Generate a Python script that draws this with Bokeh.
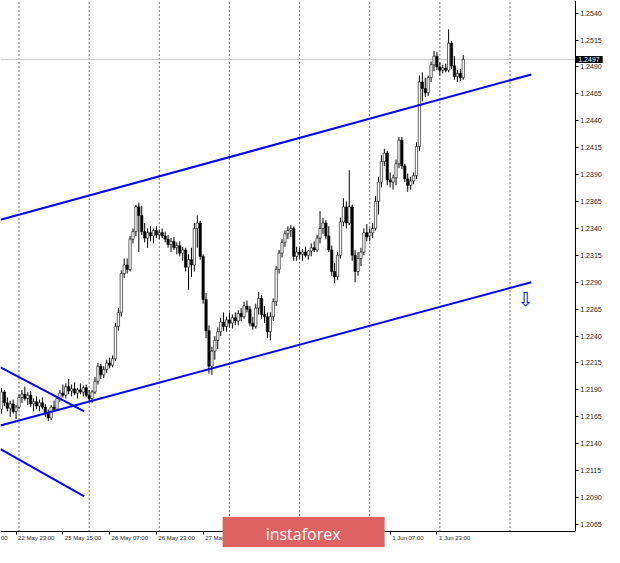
from bokeh.plotting import figure
from bokeh.models import (ColumnDataSource, FixedTicker, PrintfTickFormatter,
                          Label, LabelSet, Range1d)
from bokeh.core.properties import value
from bokeh.embed import file_html
from bokeh.resources import INLINE

# ---------------- data (GBP/USD H1, 22 May 18:00 .. 2 Jun 08:00) ----------------
opens = [1.2172, 1.2188, 1.2178, 1.2173, 1.2177, 1.2170, 1.2174, 1.2183, 1.2186, 1.2182,
         1.2185, 1.2177, 1.2179, 1.2175, 1.2178, 1.2174, 1.2168, 1.2164, 1.2174, 1.2172,
         1.2182, 1.2187, 1.2185, 1.2193, 1.2189, 1.2191, 1.2187, 1.2190, 1.2188, 1.2192,
         1.2185, 1.2182, 1.2188, 1.2198, 1.2212, 1.2204, 1.2209, 1.2215, 1.2213, 1.2219,
         1.2249, 1.2262, 1.2298, 1.2306, 1.2302, 1.2330, 1.2337, 1.2360, 1.2352, 1.2337,
         1.2331, 1.2336, 1.2333, 1.2338, 1.2334, 1.2336, 1.2333, 1.2330, 1.2325, 1.2328,
         1.2322, 1.2324, 1.2317, 1.2320, 1.2304, 1.2311, 1.2306, 1.2340, 1.2345, 1.2314,
         1.2274, 1.2245, 1.2212, 1.2226, 1.2236, 1.2244, 1.2253, 1.2249, 1.2255, 1.2252,
         1.2257, 1.2254, 1.2261, 1.2258, 1.2268, 1.2265, 1.2252, 1.2249, 1.2266, 1.2275,
         1.2260, 1.2258, 1.2244, 1.2258, 1.2272, 1.2302, 1.2317, 1.2327, 1.2335, 1.2338,
         1.2340, 1.2314, 1.2318, 1.2316, 1.2318, 1.2315, 1.2319, 1.2322, 1.2320, 1.2331,
         1.2340, 1.2345, 1.2333, 1.2320, 1.2300, 1.2295, 1.2315, 1.2346, 1.2360, 1.2345,
         1.2360, 1.2315, 1.2300, 1.2312, 1.2318, 1.2336, 1.2333, 1.2336, 1.2340, 1.2365,
         1.2383, 1.2402, 1.2410, 1.2385, 1.2383, 1.2387, 1.2400, 1.2422, 1.2398, 1.2386,
         1.2380, 1.2384, 1.2389, 1.2416, 1.2476, 1.2470, 1.2466, 1.2480, 1.2492, 1.2500,
         1.2490, 1.2487, 1.2489, 1.2487, 1.2512, 1.2491, 1.2481, 1.2484, 1.2480]
highs = [1.2192, 1.2190, 1.2183, 1.2180, 1.2181, 1.2176, 1.2186, 1.2190, 1.2193, 1.2188,
         1.2189, 1.2182, 1.2184, 1.2181, 1.2183, 1.2177, 1.2172, 1.2176, 1.2180, 1.2184,
         1.2190, 1.2195, 1.2196, 1.2200, 1.2195, 1.2197, 1.2192, 1.2196, 1.2194, 1.2195,
         1.2190, 1.2190, 1.2202, 1.2215, 1.2214, 1.2212, 1.2218, 1.2220, 1.2222, 1.2252,
         1.2266, 1.2301, 1.2312, 1.2312, 1.2333, 1.2340, 1.2362, 1.2364, 1.2361, 1.2345,
         1.2340, 1.2342, 1.2340, 1.2342, 1.2339, 1.2340, 1.2337, 1.2334, 1.2331, 1.2332,
         1.2327, 1.2328, 1.2323, 1.2322, 1.2316, 1.2322, 1.2345, 1.2352, 1.2347, 1.2316,
         1.2280, 1.2250, 1.2230, 1.2240, 1.2248, 1.2257, 1.2262, 1.2258, 1.2262, 1.2260,
         1.2262, 1.2264, 1.2266, 1.2272, 1.2273, 1.2268, 1.2258, 1.2270, 1.2281, 1.2278,
         1.2268, 1.2262, 1.2262, 1.2275, 1.2305, 1.2320, 1.2330, 1.2338, 1.2342, 1.2343,
         1.2342, 1.2323, 1.2322, 1.2321, 1.2323, 1.2320, 1.2326, 1.2328, 1.2334, 1.2356,
         1.2350, 1.2348, 1.2342, 1.2324, 1.2308, 1.2318, 1.2350, 1.2368, 1.2365, 1.2394,
         1.2362, 1.2320, 1.2318, 1.2322, 1.2340, 1.2344, 1.2340, 1.2345, 1.2370, 1.2388,
         1.2408, 1.2414, 1.2412, 1.2392, 1.2390, 1.2404, 1.2425, 1.2425, 1.2400, 1.2391,
         1.2388, 1.2392, 1.2420, 1.2482, 1.2485, 1.2480, 1.2482, 1.2495, 1.2505, 1.2504,
         1.2494, 1.2492, 1.2493, 1.2525, 1.2514, 1.2500, 1.2487, 1.2488, 1.2501]
lows = [1.2168, 1.2175, 1.2170, 1.2165, 1.2168, 1.2163, 1.2172, 1.2178, 1.2180, 1.2176,
        1.2174, 1.2170, 1.2172, 1.2170, 1.2172, 1.2165, 1.2161, 1.2162, 1.2170, 1.2171,
        1.2179, 1.2183, 1.2182, 1.2186, 1.2184, 1.2185, 1.2182, 1.2186, 1.2184, 1.2183,
        1.2179, 1.2178, 1.2186, 1.2195, 1.2200, 1.2201, 1.2206, 1.2210, 1.2211, 1.2217,
        1.2245, 1.2258, 1.2294, 1.2298, 1.2300, 1.2326, 1.2333, 1.2318, 1.2334, 1.2327,
        1.2322, 1.2328, 1.2326, 1.2331, 1.2330, 1.2331, 1.2327, 1.2322, 1.2318, 1.2320,
        1.2316, 1.2314, 1.2310, 1.2300, 1.2283, 1.2295, 1.2300, 1.2322, 1.2311, 1.2270,
        1.2238, 1.2205, 1.2204, 1.2218, 1.2228, 1.2240, 1.2245, 1.2244, 1.2248, 1.2247,
        1.2250, 1.2250, 1.2254, 1.2256, 1.2262, 1.2249, 1.2246, 1.2247, 1.2260, 1.2256,
        1.2252, 1.2238, 1.2236, 1.2254, 1.2268, 1.2298, 1.2313, 1.2323, 1.2330, 1.2332,
        1.2310, 1.2310, 1.2312, 1.2310, 1.2313, 1.2311, 1.2314, 1.2318, 1.2318, 1.2326,
        1.2335, 1.2330, 1.2318, 1.2296, 1.2289, 1.2292, 1.2312, 1.2342, 1.2340, 1.2343,
        1.2310, 1.2290, 1.2296, 1.2305, 1.2315, 1.2328, 1.2328, 1.2331, 1.2338, 1.2353,
        1.2378, 1.2398, 1.2380, 1.2378, 1.2376, 1.2380, 1.2396, 1.2395, 1.2383, 1.2374,
        1.2376, 1.2381, 1.2386, 1.2412, 1.2458, 1.2462, 1.2463, 1.2476, 1.2486, 1.2487,
        1.2482, 1.2484, 1.2485, 1.2485, 1.2488, 1.2478, 1.2476, 1.2477, 1.2478]
closes = [1.2188, 1.2178, 1.2173, 1.2177, 1.2170, 1.2174, 1.2183, 1.2186, 1.2182, 1.2185,
          1.2177, 1.2179, 1.2175, 1.2178, 1.2174, 1.2168, 1.2164, 1.2174, 1.2172, 1.2182,
          1.2187, 1.2185, 1.2193, 1.2189, 1.2191, 1.2187, 1.2190, 1.2188, 1.2192, 1.2185,
          1.2182, 1.2188, 1.2198, 1.2212, 1.2204, 1.2209, 1.2215, 1.2213, 1.2219, 1.2249,
          1.2262, 1.2298, 1.2306, 1.2302, 1.2330, 1.2337, 1.2360, 1.2352, 1.2337, 1.2331,
          1.2336, 1.2333, 1.2338, 1.2334, 1.2336, 1.2333, 1.2330, 1.2325, 1.2328, 1.2322,
          1.2324, 1.2317, 1.2320, 1.2304, 1.2311, 1.2306, 1.2340, 1.2345, 1.2314, 1.2274,
          1.2245, 1.2212, 1.2226, 1.2236, 1.2244, 1.2253, 1.2249, 1.2255, 1.2252, 1.2257,
          1.2254, 1.2261, 1.2258, 1.2268, 1.2265, 1.2252, 1.2249, 1.2266, 1.2275, 1.2260,
          1.2258, 1.2244, 1.2258, 1.2272, 1.2302, 1.2317, 1.2327, 1.2335, 1.2338, 1.2340,
          1.2314, 1.2318, 1.2316, 1.2318, 1.2315, 1.2319, 1.2322, 1.2320, 1.2331, 1.2340,
          1.2345, 1.2333, 1.2320, 1.2300, 1.2295, 1.2315, 1.2346, 1.2360, 1.2345, 1.2360,
          1.2315, 1.2300, 1.2312, 1.2318, 1.2336, 1.2332, 1.2336, 1.2340, 1.2365, 1.2383,
          1.2402, 1.2410, 1.2385, 1.2383, 1.2387, 1.2400, 1.2422, 1.2398, 1.2386, 1.2380,
          1.2384, 1.2389, 1.2416, 1.2476, 1.2470, 1.2466, 1.2480, 1.2492, 1.2500, 1.2490,
          1.2487, 1.2489, 1.2487, 1.2512, 1.2491, 1.2481, 1.2484, 1.2480, 1.2497]

price_ticks = [1.2065, 1.2090, 1.2115, 1.2140, 1.2165, 1.2190, 1.2215, 1.2240, 1.2265, 1.2290,
               1.2315, 1.2340, 1.2365, 1.2390, 1.2415, 1.2440, 1.2465, 1.2490, 1.2515, 1.2540]
time_ticks = [-11, 5, 21, 37, 53, 69, 85, 101, 117, 133, 149]
time_labels = ["22 May 07:00", "22 May 23:00", "25 May 15:00", "26 May 07:00", "26 May 23:00",
               "27 May 15:00", "28 May 07:00", "28 May 23:00", "29 May 15:00", "1 Jun 07:00",
               "1 Jun 23:00"]
day_starts = [6, 30, 54, 78, 102, 126, 150, 174]
current_price = 1.2497
current_label = "1.2497"

upper_channel_x = [-0.33, 181.3]
upper_channel_y = [1.2348, 1.2483]
lower_channel_x = [-0.33, 181.3]
lower_channel_y = [1.2157, 1.2290]
desc_line1_x = [-0.33, 28.3]
desc_line1_y = [1.2211, 1.2170]
desc_line2_x = [-0.33, 28.3]
desc_line2_y = [1.2135, 1.2091]
arrow_x = [179.3]
arrow_y = [1.2274]

# ---------------- layout constants ----------------
x_lo, x_hi = -0.333, 206.33          # whole canvas width in bar units
y_lo, y_hi = 1.20436, 1.25517        # whole canvas height in price units
price_axis_bar = 196.33              # where the price scale sits
time_axis_price = 1.2058             # where the time scale sits
logo_left_bar = 75.67

bars = list(range(len(opens)))
tops = [max(o, c) for o, c in zip(opens, closes)]
bottoms = [min(o, c) for o, c in zip(opens, closes)]
fills = ["white" if c >= o else "black" for o, c in zip(opens, closes)]
src = ColumnDataSource(dict(x=bars, high=highs, low=lows, top=tops, bottom=bottoms, fill=fills))

p = figure(width=604, height=547, x_range=Range1d(x_lo, x_hi), y_range=Range1d(y_lo, y_hi),
           output_backend="svg", toolbar_location=None, y_axis_location="right")
p.min_border = 0
p.min_border_left = 0
p.min_border_right = 0
p.min_border_top = 0
p.min_border_bottom = 0
p.outline_line_color = None
p.background_fill_color = "white"
p.border_fill_color = "white"
p.grid.visible = False

ax = p.xaxis[0]
ax.fixed_location = time_axis_price
ax.bounds = (x_lo, price_axis_bar)
ax.ticker = FixedTicker(ticks=time_ticks)
ax.major_label_text_color = None
ax.major_label_text_font_size = "1px"
ax.major_tick_out = 3
ax.major_tick_in = 0
ax.minor_tick_line_color = None
ax.axis_line_color = "black"
ax.major_tick_line_color = "black"

ay = p.yaxis[0]
ay.fixed_location = price_axis_bar
ay.bounds = (time_axis_price, y_hi)
ay.ticker = FixedTicker(ticks=price_ticks)
ay.formatter = PrintfTickFormatter(format="%.4f")
ay.major_label_text_font = "Liberation Sans"
ay.major_label_text_font_size = "7px"
ay.major_label_text_color = "#1a1a1a"
ay.major_tick_out = 3
ay.major_tick_in = 0
ay.major_label_standoff = 2
ay.minor_tick_line_color = None
ay.axis_line_color = "black"
ay.major_tick_line_color = "black"

# day separators (dotted)
p.segment(x0=day_starts, y0=time_axis_price, x1=day_starts, y1=y_hi,
          line_color="#707070", line_width=1, line_dash="2 2")
# current price line
p.line([x_lo, price_axis_bar], [current_price, current_price], line_color="#c8c8c8", line_width=1)

# candles
p.segment(x0="x", y0="low", x1="x", y1="high", source=src, line_color="black", line_width=1)
p.vbar(x="x", width=0.8, top="top", bottom="bottom", source=src,
       fill_color="fill", line_color="black", line_width=0.6)

# trend lines
blue = "#0000ff"
for lx, ly in [(upper_channel_x, upper_channel_y), (lower_channel_x, lower_channel_y),
               (desc_line1_x, desc_line1_y), (desc_line2_x, desc_line2_y)]:
    p.line(lx, ly, line_color=blue, line_width=2)

p.text(x=arrow_x, y=arrow_y, text=["\u21e9"], text_color=blue,
       text_font=value("DejaVu Sans"), text_font_size="19px",
       text_align="center", text_baseline="middle")

# time labels (left aligned at the tick, like MT4)
tsrc = ColumnDataSource(dict(x=time_ticks, text=time_labels))
p.add_layout(LabelSet(x="x", y=time_axis_price, text="text", source=tsrc, x_offset=2, y_offset=-6,
                      text_align="left", text_baseline="middle",
                      text_font=value("Liberation Sans"), text_font_size="6px",
                      text_color="#1a1a1a"))

# current price box on the price scale
p.add_layout(Label(x=price_axis_bar, y=current_price, text=current_label,
                   text_align="left", text_baseline="middle", text_color="white",
                   text_font="Liberation Sans", text_font_size="7px",
                   background_fill_color="black",
                   padding=dict(left=3, right=3, top=1, bottom=1)))

# watermark logo
p.add_layout(Label(x=logo_left_bar, y=time_axis_price, y_offset=-2, text="instaforex",
                   text_align="left", text_baseline="middle", text_color="white",
                   text_font="Open Sans", text_font_size="16px",
                   background_fill_color="#df6262",
                   padding=dict(left=43, right=44, top=6, bottom=6)))

open("out.html", "w").write(file_html(p, INLINE))
